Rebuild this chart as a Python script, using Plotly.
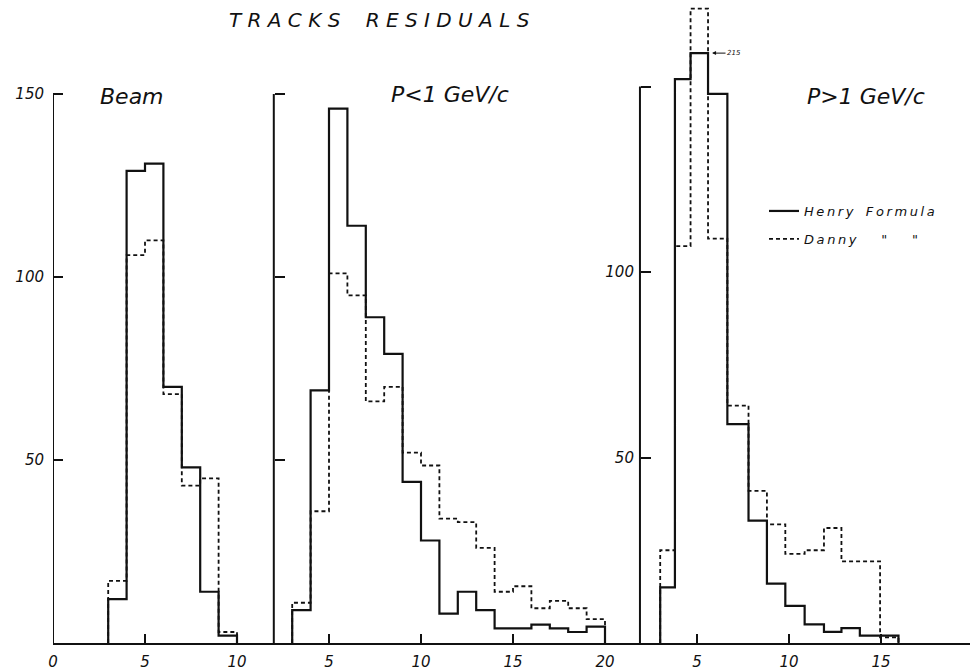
import plotly.graph_objects as go

# ---------------- data ----------------
# Beam panel: bins 3..10
beam_edges = [3, 4, 5, 6, 7, 8, 9, 10]
beam_henry = [12, 129, 131, 70, 48, 14, 2]
beam_danny = [17, 106, 110, 68, 43, 45, 3]

# P<1 GeV/c panel: bins 3..20
low_edges = [3, 4, 5, 6, 7, 8, 9, 10, 11, 12, 13, 14, 15, 16, 17, 18, 19, 20]
low_henry = [9, 69, 146, 114, 89, 79, 44, 28, 8, 14, 9, 4, 4, 5, 4, 3, 4.5]
low_danny = [11, 36, 101, 95, 66, 70, 52, 48.5, 34, 33, 26, 14, 15.5, 9.5, 11.5, 9.5, 6.5]

# P>1 GeV/c panel: hand-drawn bin edges as they appear
high_edges = [3, 3.8, 4.65, 5.6, 6.65, 7.8, 8.8, 9.8, 10.85, 11.9, 12.85, 13.85, 14.95, 15.95]
high_henry = [15, 152, 159, 148, 59, 33, 16, 10, 5, 3, 4, 2, 2]
high_danny = [25, 107, 171, 109, 64, 41, 32, 24, 25, 31, 22, 22, 1.5]

peak_note = "215"

# panel layout along one shared baseline
panel_offsets = [0, 10, 30]
panel_axis_local = [0, 2, 1.9]
x_tick_local = [[0, 5, 10], [5, 10, 15, 20], [5, 10, 15]]
y_tick_vals = [50, 100, 150]
y_tick_text_beam = ["50", "100", "150"]
y_tick_text_high = ["50", "100", ""]

panel_titles = ["Beam", "P<1 GeV/c", "P>1 GeV/c"]
title_text = "TRACKS RESIDUALS"
TS = "\u2009"   # thin space (lettering look)
NB = "\u00a0"
series_names = [
    TS.join("Henry") + NB * 3 + TS.join("Formula"),
    TS.join("Danny") + NB * 6 + '"' + NB * 6 + '"',
]

# ---------------- geometry / style ----------------
W, H = 970, 671
ML, MR, MT, MB = 53, 0, 5, 28
PW, PH = W - ML - MR, H - MT - MB
XMAX = PW / 18.4
Y1MAX = PH / 3.66
Y3MAX = PH / 3.71
FONT = "DejaVu Sans"
INK = "#111111"
DASH = "4px,3px"


def paper(px, py):
    return (px - ML) / PW, (H - MB - py) / PH


def outline(edges, vals, off):
    xs = [off + edges[0]] + [off + e for e in edges]
    ys = [0] + list(vals) + [0]
    return xs, ys


fig = go.Figure()

panels = [
    (beam_edges, beam_henry, beam_danny, "y"),
    (low_edges, low_henry, low_danny, "y"),
    (high_edges, high_henry, high_danny, "y3"),
]

# dashed first, solid on top
for i, (edges, henry, danny, ya) in enumerate(panels):
    xs, ys = outline(edges, danny, panel_offsets[i])
    fig.add_trace(go.Scatter(
        x=xs, y=ys, mode="lines", line_shape="hv", yaxis=ya,
        line=dict(color=INK, width=1.8, dash=DASH),
        name=series_names[1], showlegend=(i == 0), legendgroup="d", legendrank=2,
        hoverinfo="skip"))
for i, (edges, henry, danny, ya) in enumerate(panels):
    xs, ys = outline(edges, henry, panel_offsets[i])
    fig.add_trace(go.Scatter(
        x=xs, y=ys, mode="lines", line_shape="hv", yaxis=ya,
        line=dict(color=INK, width=2.2),
        name=series_names[0], showlegend=(i == 0), legendgroup="h", legendrank=1,
        hoverinfo="skip"))

# x ticks (global positions)
tickvals, ticktext = [], []
for off, loc in zip(panel_offsets, x_tick_local):
    for t in loc:
        g = off + t
        if g not in tickvals:
            tickvals.append(g)
            ticktext.append(str(t))

axis_positions = [off + a for off, a in zip(panel_offsets, panel_axis_local)]

shapes = []
for i, xp in enumerate(axis_positions):
    shapes.append(dict(type="line", xref="x", yref=("y3" if i == 2 else "y"),
                       x0=xp, x1=xp, y0=0, y1=y_tick_vals[-1],
                       line=dict(color=INK, width=2)))

tickfont = dict(family=FONT, size=15, color=INK, style="italic")

annotations = []
words = title_text.split(" ")
spaced_title = (NB * 4).join(NB.join(list(w)) for w in words)
tx, ty = paper(379, 20)
annotations.append(dict(xref="paper", yref="paper", x=tx, y=ty,
                        xanchor="center", yanchor="middle",
                        text=spaced_title, showarrow=False,
                        font=dict(family=FONT, size=20, color=INK, style="italic")))
for txt, (px, py) in zip(panel_titles, [(132, 96), (450, 95), (866, 97)]):
    ax_, ay_ = paper(px, py)
    annotations.append(dict(xref="paper", yref="paper", x=ax_, y=ay_, text=txt,
                            xanchor="center", yanchor="middle",
                            showarrow=False,
                            font=dict(family=FONT, size=22, color=INK, style="italic")))
annotations.append(dict(xref="x", yref="y3",
                        x=panel_offsets[2] + high_edges[3], y=high_henry[2],
                        text=peak_note, showarrow=True, ax=26, ay=0,
                        arrowhead=2, arrowsize=0.8, arrowwidth=1, arrowcolor=INK,
                        standoff=4,
                        font=dict(family=FONT, size=7, color=INK, style="italic")))

lx, ly = paper(764, 196)

fig.update_layout(
    width=W, height=H,
    margin=dict(l=ML, r=MR, t=MT, b=MB, pad=0),
    paper_bgcolor="white", plot_bgcolor="white",
    showlegend=True,
    legend=dict(x=lx, y=ly, xanchor="left", yanchor="top",
                bgcolor="rgba(0,0,0,0)", borderwidth=0,
                tracegroupgap=8, itemwidth=30,
                font=dict(family=FONT, size=13, color=INK, style="italic")),
    xaxis=dict(range=[0, XMAX], showgrid=False, zeroline=False,
               showline=True, linecolor=INK, linewidth=2,
               ticks="inside", ticklen=9, tickwidth=1.5, tickcolor=INK,
               tickvals=tickvals, ticktext=ticktext, tickfont=tickfont,
               ticklabelstandoff=4, fixedrange=True),
    yaxis=dict(range=[0, Y1MAX], showgrid=False, zeroline=False, showline=False,
               ticks="inside", ticklen=10, tickwidth=2, tickcolor=INK,
               tickvals=y_tick_vals, ticktext=y_tick_text_beam, tickfont=tickfont,
               ticklabelstandoff=8, fixedrange=True),
    yaxis2=dict(range=[0, Y1MAX], overlaying="y", anchor="free",
                position=axis_positions[1] / XMAX,
                showgrid=False, zeroline=False, showline=False,
                ticks="inside", ticklen=10, tickwidth=2, tickcolor=INK,
                tickvals=y_tick_vals, showticklabels=False, fixedrange=True),
    yaxis3=dict(range=[0, Y3MAX], overlaying="y", anchor="free",
                position=axis_positions[2] / XMAX, side="left",
                showgrid=False, zeroline=False, showline=False,
                ticks="inside", ticklen=10, tickwidth=2, tickcolor=INK,
                tickvals=y_tick_vals, ticktext=y_tick_text_high, tickfont=tickfont,
                ticklabelstandoff=6, fixedrange=True),
    shapes=shapes,
    annotations=annotations,
)

# attach an invisible trace so the middle panel's axis is drawn
fig.add_trace(go.Scatter(x=[None], y=[None], yaxis="y2", showlegend=False,
                         hoverinfo="skip"))

fig.write_html("out.html")
